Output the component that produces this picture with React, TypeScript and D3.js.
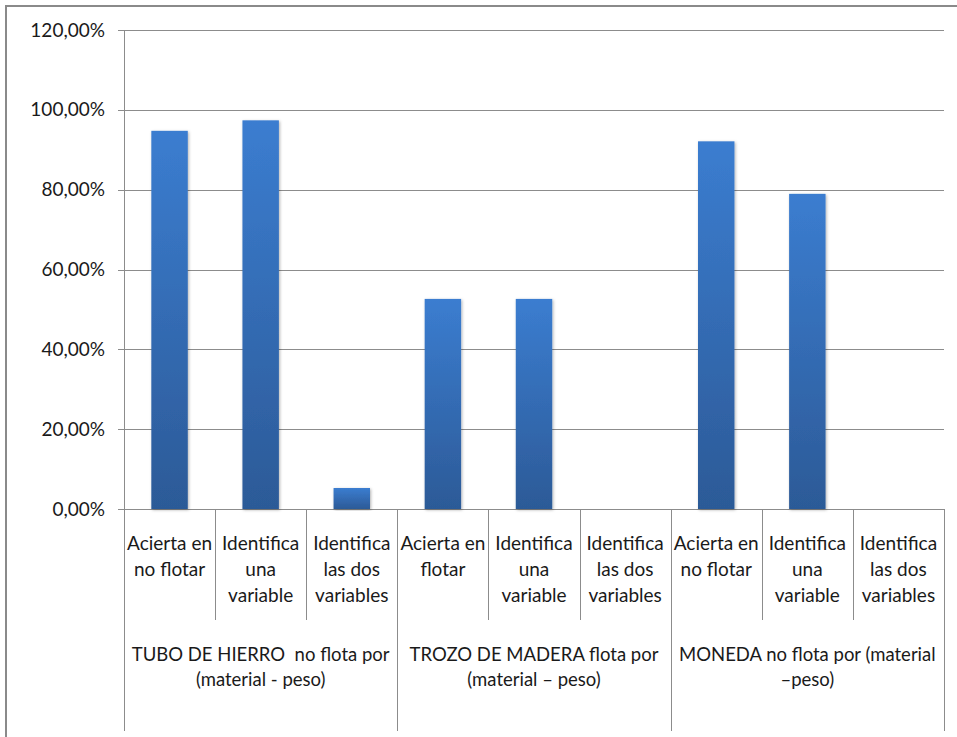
import React from "react";
import * as d3 from "d3";

// Criteria shown under each object
const criteria: string[][] = [
  ["Acierta en", "no flotar"],
  ["Identifica", "una", "variable"],
  ["Identifica", "las dos", "variables"],
  ["Acierta en", "flotar"],
  ["Identifica", "una", "variable"],
  ["Identifica", "las dos", "variables"],
  ["Acierta en", "no flotar"],
  ["Identifica", "una", "variable"],
  ["Identifica", "las dos", "variables"],
];

// Object groups (three criteria each)
const groups: string[][] = [
  ["TUBO DE HIERRO  no flota por", "(material - peso)"],
  ["TROZO DE MADERA flota por", "(material – peso)"],
  ["MONEDA no flota por (material", "–peso)"],
];

// Share of correct answers per criterion
const values: number[] = [0.9474, 0.9737, 0.0526, 0.5263, 0.5263, 0, 0.9211, 0.7895, 0];

const yTicks: number[] = [0, 0.2, 0.4, 0.6, 0.8, 1.0, 1.2];

const W = 957;
const H = 737;
const left = 124;
const right = 944;
const top = 30;
const bottom = 509;
const FONT = "Lato, 'Open Sans', sans-serif";

export default function App() {
  const y = d3.scaleLinear().domain([0, 1.2]).range([bottom, top]);
  const x = d3
    .scaleBand<number>()
    .domain(d3.range(values.length))
    .range([left, right])
    .paddingInner(0.6)
    .paddingOuter(0.3);
  const step = x.step();
  const fmt = (v: number) => d3.format(".2f")(v * 100).replace(".", ",") + "%";

  return (
    <svg
      width={W}
      height={H}
      style={{ position: "absolute", left: 0, top: 0, background: "#fff" }}
      fontFamily={FONT}
    >
      <defs>
        <linearGradient id="barFill" x1="0" y1="0" x2="0" y2="1">
          <stop offset="0%" stopColor="#3b7dd0" />
          <stop offset="100%" stopColor="#2c5a97" />
        </linearGradient>
        <filter id="barShadow" x="-20%" y="-5%" width="140%" height="110%">
          <feDropShadow dx="1" dy="1" stdDeviation="1.5" floodColor="#000" floodOpacity="0.3" />
        </filter>
      </defs>

      {/* outer chart frame */}
      <path d={`M6,${H + 2} V6 H${W + 2}`} fill="none" stroke="#8a8a8a" strokeWidth={2} />

      {/* gridlines and value axis labels */}
      {yTicks.map((t) => (
        <g key={t}>
          <line x1={left - 6} x2={right} y1={Math.round(y(t)) + 0.5} y2={Math.round(y(t)) + 0.5} stroke="#8c8c8c" />
          <text
            x={105}
            y={y(t)}
            dy="0.35em"
            textAnchor="end"
            fontSize={19}
            fill="#1a1a1a"
          >
            {fmt(t)}
          </text>
        </g>
      ))}

      {/* bars */}
      {values.map((v, i) =>
        v > 0 ? (
          <rect
            key={i}
            x={x(i)}
            y={y(v)}
            width={x.bandwidth()}
            height={y(0) - y(v)}
            fill="url(#barFill)"
            filter="url(#barShadow)"
          />
        ) : null
      )}

      {/* value axis */}
      <line x1={left + 0.5} x2={left + 0.5} y1={top} y2={731} stroke="#8c8c8c" />

      {/* category separators */}
      {d3.range(values.length + 1).map((i) => {
        const xx = Math.round(left + i * step) + 0.5;
        const isGroup = i % 3 === 0;
        return i === 0 ? null : (
          <line key={i} x1={xx} x2={xx} y1={bottom} y2={isGroup ? 731 : 620} stroke="#8c8c8c" />
        );
      })}

      {/* criterion labels */}
      {criteria.map((lines, i) => (
        <text key={i} textAnchor="middle" fontSize={19} fill="#1a1a1a">
          {lines.map((ln, j) => (
            <tspan key={j} x={left + (i + 0.5) * step} y={543 + j * 26} dy="0.35em">
              {ln}
            </tspan>
          ))}
        </text>
      ))}

      {/* object group labels */}
      {groups.map((lines, g) => (
        <text key={g} textAnchor="middle" fontSize={18.5} fill="#1a1a1a" style={{ whiteSpace: "pre" }}>
          {lines.map((ln, j) => (
            <tspan key={j} x={left + (g * 3 + 1.5) * step} y={655 + j * 25} dy="0.35em">
              {ln}
            </tspan>
          ))}
        </text>
      ))}
    </svg>
  );
}
